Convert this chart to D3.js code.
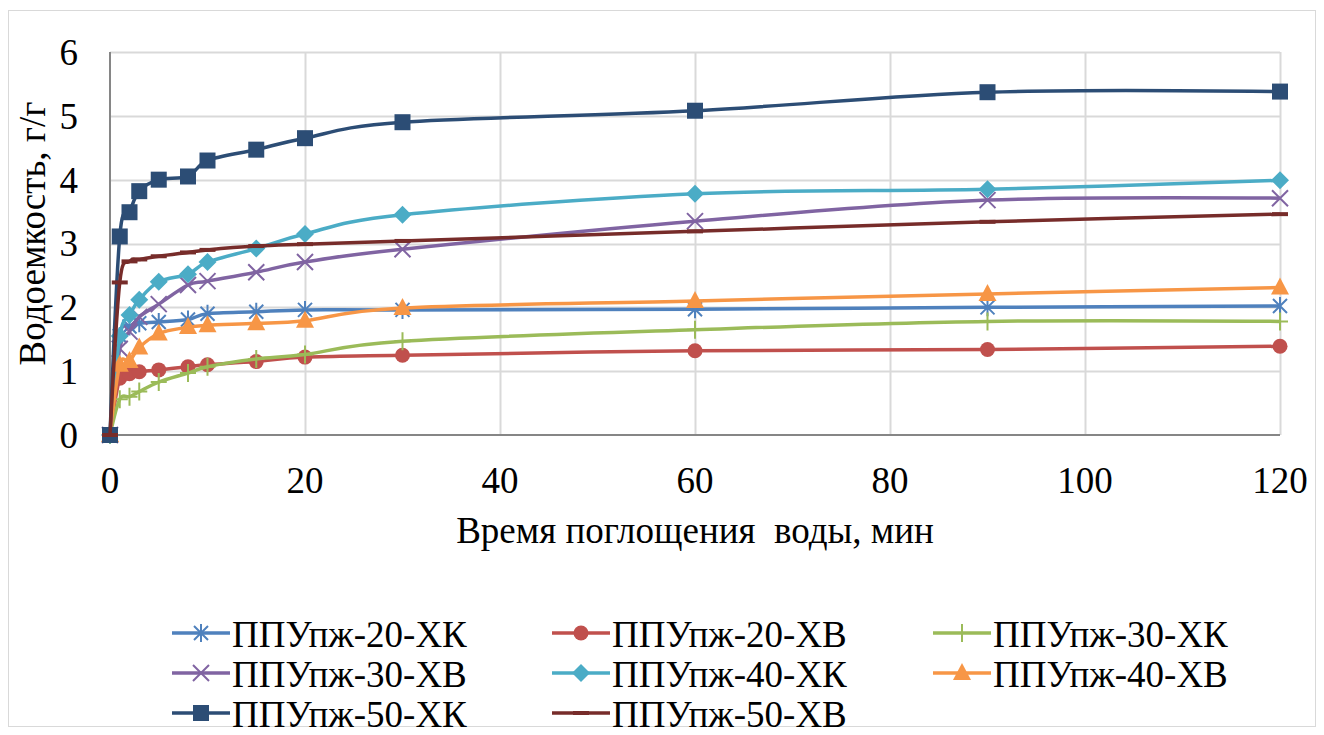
<!DOCTYPE html>
<html>
<head>
<meta charset="utf-8">
<script src="https://cdn.jsdelivr.net/npm/d3@7"></script>
</head>
<body style="margin:0">
<div id="wrapper"></div>
<script>
// Data
var times = [0, 1, 2, 3, 5, 8, 10, 15, 20, 30, 60, 90, 120];
var names = ["ППУпж-20-ХК", "ППУпж-20-ХВ", "ППУпж-30-ХК", "ППУпж-30-ХВ",
             "ППУпж-40-ХК", "ППУпж-40-ХВ", "ППУпж-50-ХК", "ППУпж-50-ХВ"];
var s20XK = [0, 1.55, 1.70, 1.75, 1.77, 1.81, 1.90, 1.93, 1.96, 1.96, 1.97, 2.00, 2.02];
var s20XB = [0, 0.89, 0.96, 0.99, 1.02, 1.07, 1.10, 1.15, 1.22, 1.25, 1.32, 1.34, 1.39];
var s30XK = [0, 0.56, 0.60, 0.68, 0.83, 0.97, 1.07, 1.19, 1.26, 1.47, 1.65, 1.78, 1.78];
var s30XB = [0, 1.35, 1.62, 1.85, 2.05, 2.35, 2.41, 2.55, 2.71, 2.91, 3.35, 3.68, 3.71];
var s40XK = [0, 1.55, 1.88, 2.12, 2.40, 2.52, 2.71, 2.92, 3.15, 3.45, 3.78, 3.85, 3.99];
var s40XB = [0, 1.10, 1.16, 1.37, 1.59, 1.69, 1.72, 1.75, 1.79, 1.99, 2.10, 2.21, 2.31];
var s50XK = [0, 3.11, 3.49, 3.82, 4.00, 4.05, 4.30, 4.47, 4.65, 4.90, 5.08, 5.37, 5.38];
var s50XB = [0, 2.39, 2.72, 2.75, 2.80, 2.86, 2.90, 2.96, 2.99, 3.04, 3.19, 3.34, 3.46];
var xTicks = [0, 20, 40, 60, 80, 100, 120];
var yTicks = [0, 1, 2, 3, 4, 5, 6];

var allValues = [s20XK, s20XB, s30XK, s30XB, s40XK, s40XB, s50XK, s50XB];
var colors = ["#4F81BD", "#C0504D", "#9BBB59", "#8064A2", "#4BACC6", "#F79646", "#2C4D75", "#772C2A"];
var markers = ["star", "circle", "plus", "cross", "diamond", "triangle", "square", "dash"];
var fontSize = 37;

var series = names.map(function (n, i) {
  return { name: n, color: colors[i], marker: markers[i],
           values: times.map(function (t, j) { return { t: t, v: allValues[i][j] }; }) };
});

var W = 1324, H = 735;
var margin = { top: 52, right: 44, bottom: 300, left: 110 },
  width = W - margin.left - margin.right,
  height = H - margin.top - margin.bottom;

var root = d3.select("#wrapper").append("svg")
  .attr("width", W).attr("height", H);

// outer chart border
root.append("rect")
  .attr("x", 8.5).attr("y", 10.5).attr("width", 1307).attr("height", 716)
  .attr("fill", "#fff").attr("stroke", "#D9D9D9").attr("stroke-width", 1);

var svg = root.append("g")
  .attr("transform", "translate(" + margin.left + "," + margin.top + ")");

var x = d3.scaleLinear().domain([0, 120]).range([0, width]);
var y = d3.scaleLinear().domain([0, 6]).range([height, 0]);

// gridlines
svg.append("g").selectAll("line.h").data(yTicks.slice(1)).enter().append("line")
  .attr("x1", 0).attr("x2", width)
  .attr("y1", function (d) { return Math.round(y(d)) + 0.5; })
  .attr("y2", function (d) { return Math.round(y(d)) + 0.5; })
  .attr("stroke", "#D9D9D9").attr("stroke-width", 2);
svg.append("g").selectAll("line.v").data(xTicks.slice(1)).enter().append("line")
  .attr("y1", 0).attr("y2", height)
  .attr("x1", function (d) { return Math.round(x(d)) + 0.5; })
  .attr("x2", function (d) { return Math.round(x(d)) + 0.5; })
  .attr("stroke", "#D9D9D9").attr("stroke-width", 2);

// axes (plain text labels instead of d3 axis text to keep fonts clean)
svg.append("line")
  .attr("x1", 0).attr("x2", width).attr("y1", height).attr("y2", height)
  .attr("stroke", "#868686").attr("stroke-width", 2);
svg.append("line")
  .attr("x1", 0).attr("x2", 0).attr("y1", 0).attr("y2", height)
  .attr("stroke", "#868686").attr("stroke-width", 2);
svg.selectAll("text.xt").data(xTicks).enter().append("text")
  .attr("x", function (d) { return x(d); })
  .attr("y", height + 58)
  .attr("text-anchor", "middle")
  .style("font-family", "Tinos").attr("font-size", fontSize)
  .text(function (d) { return d; });
svg.selectAll("text.yt").data(yTicks).enter().append("text")
  .attr("x", -32)
  .attr("y", function (d) { return y(d); })
  .attr("dy", "0.35em")
  .attr("text-anchor", "end")
  .style("font-family", "Tinos").attr("font-size", fontSize)
  .text(function (d) { return d; });

// axis titles
svg.append("text")
  .attr("x", width / 2).attr("y", height + 108)
  .attr("text-anchor", "middle")
  .attr("xml:space", "preserve")
  .style("font-family", "Liberation Serif").attr("font-size", fontSize)
  .text("Время поглощения  воды, мин");
svg.append("text")
  .attr("transform", "translate(" + (-65) + "," + (height / 2 - 10) + ") rotate(-90)")
  .attr("text-anchor", "middle")
  .style("font-family", "Liberation Serif").attr("font-size", fontSize)
  .text("Водоемкость, г/г");

// lines
var line = d3.line()
  .x(function (d) { return x(d.t); })
  .y(function (d) { return y(d.v); })
  .curve(d3.curveCatmullRom.alpha(0));

function drawMarker(g, type, color) {
  var s = 8;
  if (type === "circle") {
    g.append("circle").attr("r", 7.5).attr("fill", color);
  } else if (type === "square") {
    g.append("rect").attr("x", -s).attr("y", -s).attr("width", 2 * s).attr("height", 2 * s).attr("fill", color);
  } else if (type === "diamond") {
    g.append("path").attr("d", "M0,-9L9,0L0,9L-9,0Z").attr("fill", color);
  } else if (type === "triangle") {
    g.append("path").attr("d", "M0,-10L9,7L-9,7Z").attr("fill", color);
  } else if (type === "cross") {
    g.append("path").attr("d", "M-8,-8L8,8M-8,8L8,-8").attr("stroke", color).attr("stroke-width", 2).attr("fill", "none");
  } else if (type === "star") {
    g.append("path").attr("d", "M-7,-7L7,7M-7,7L7,-7M0,-9L0,9").attr("stroke", color).attr("stroke-width", 2).attr("fill", "none");
  } else if (type === "plus") {
    g.append("path").attr("d", "M0,-9L0,9M-8,0L8,0").attr("stroke", color).attr("stroke-width", 2).attr("fill", "none");
  } else if (type === "dash") {
    g.append("rect").attr("x", -8).attr("y", -2).attr("width", 16).attr("height", 4).attr("fill", color);
  }
}

var plot = svg.append("g");
series.forEach(function (s) {
  var g = plot.append("g");
  g.append("path")
    .datum(s.values)
    .attr("d", line)
    .attr("fill", "none")
    .attr("stroke", s.color)
    .attr("stroke-width", 3.5)
    .attr("stroke-linejoin", "round");
  g.selectAll("g.m").data(s.values).enter().append("g")
    .attr("transform", function (d) { return "translate(" + x(d.t) + "," + y(d.v) + ")"; })
    .each(function () { drawMarker(d3.select(this), s.marker, s.color); });
});

// legend
var colX = [172, 552, 933];
var rowY = [633, 673, 713];
var legend = root.append("g");
series.forEach(function (s, i) {
  var cx = colX[i % 3], cy = rowY[Math.floor(i / 3)];
  var g = legend.append("g").attr("transform", "translate(" + cx + "," + cy + ")");
  g.append("line").attr("x1", 0).attr("x2", 58).attr("y1", 0).attr("y2", 0)
    .attr("stroke", s.color).attr("stroke-width", 3.5);
  var m = g.append("g").attr("transform", "translate(29,0)");
  drawMarker(m, s.marker, s.color);
  g.append("text").attr("x", 60).attr("y", 0).attr("dy", "0.38em")
    .style("font-family", "'Times New Roman'").attr("font-size", fontSize).text(s.name);
});
</script>
</body>
</html>
